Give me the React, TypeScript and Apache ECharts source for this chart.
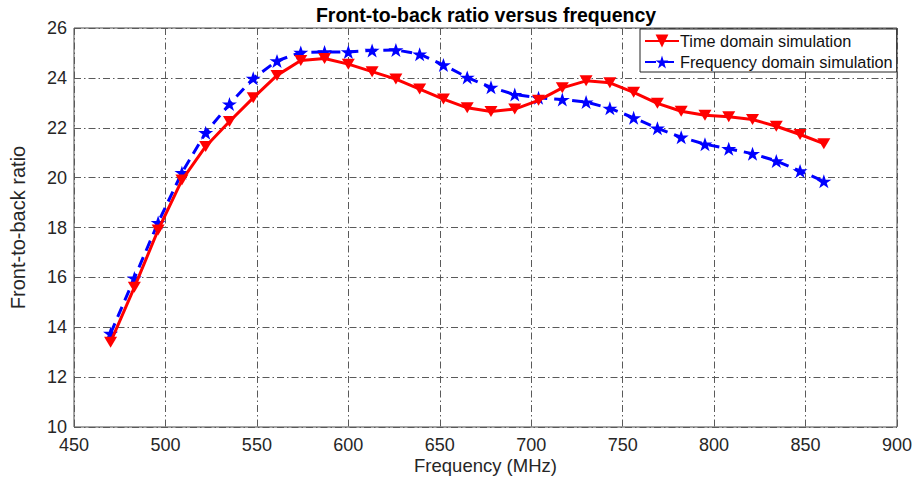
import React, { useEffect, useRef } from "react";
import * as echarts from "echarts";

const freqs = [470, 483, 496, 509, 522, 535, 548, 561, 574, 587, 600, 613, 626, 639, 652, 665, 678, 691, 704, 717, 730, 743, 756, 769, 782, 795, 808, 821, 834, 847, 860];
const timeDomain = [13.4, 15.6, 17.9, 19.9, 21.25, 22.25, 23.2, 24.1, 24.7, 24.78, 24.55, 24.25, 23.95, 23.55, 23.15, 22.8, 22.65, 22.75, 23.1, 23.6, 23.88, 23.8, 23.42, 22.98, 22.66, 22.5, 22.44, 22.33, 22.06, 21.73, 21.36];
const freqDomain = [13.75, 15.97, 18.2, 20.2, 21.8, 22.95, 23.98, 24.68, 25.02, 25.04, 25.04, 25.1, 25.12, 24.95, 24.52, 24.02, 23.62, 23.33, 23.2, 23.13, 23.03, 22.78, 22.4, 21.98, 21.62, 21.34, 21.16, 20.96, 20.67, 20.27, 19.85];
const xTicks = { min: 450, max: 900, interval: 50 };
const yTicks = { min: 10, max: 26, interval: 2 };
const seriesNames = ["Time domain simulation", "Frequency domain simulation"];

const STAR = "path://M12,0 L14.9,8.9 L24,8.9 L16.6,14.4 L19.4,23.2 L12,17.8 L4.6,23.2 L7.4,14.4 L0,8.9 L9.1,8.9 Z";
const FONT = "Liberation Sans, Arial, sans-serif";

export default function App() {
  const ref = useRef<HTMLDivElement>(null);
  useEffect(() => {
    document.body.style.margin = "0";
    if (!ref.current) return;
    const chart = echarts.init(ref.current, null, { renderer: "svg" });
    const gridLine = { show: true, lineStyle: { color: "#5a5a5a", width: 1, type: [7, 3, 1.5, 3] } };
    chart.setOption({
      animation: false,
      backgroundColor: "#ffffff",
      textStyle: { fontFamily: FONT },
      title: {
        text: "Front-to-back ratio versus frequency",
        left: 481,
        textAlign: "center",
        top: 0,
        textStyle: { fontFamily: FONT, fontSize: 19.5, fontWeight: "bold", color: "#000" },
      },
      grid: { left: 67, right: 23, top: 28, bottom: 58, show: true, borderColor: "#4a4a4a", borderWidth: 1, backgroundColor: "#fff" },
      legend: {
        left: 640,
        top: 29,
        orient: "vertical",
        backgroundColor: "#fff",
        borderColor: "#222",
        borderWidth: 1,
        borderRadius: 0,
        padding: [4, 4, 2, 4],
        itemGap: 5,
        itemWidth: 34,
        itemHeight: 16,
        textStyle: { fontFamily: FONT, fontSize: 16.3, color: "#111", padding: [0, 0, 0, -4] },
        data: seriesNames,
      },
      xAxis: {
        type: "value",
        min: xTicks.min,
        max: xTicks.max,
        interval: xTicks.interval,
        name: "Frequency (MHz)",
        nameLocation: "middle",
        nameGap: 29,
        nameMoveOverlap: false,
        nameTextStyle: { fontFamily: FONT, fontSize: 18.5, color: "#262626" },
        axisLine: { show: false },
        axisTick: { show: false },
        axisLabel: { fontFamily: FONT, fontSize: 18, color: "#262626", margin: 9 },
        splitLine: gridLine,
      },
      yAxis: {
        type: "value",
        min: yTicks.min,
        max: yTicks.max,
        interval: yTicks.interval,
        name: "Front-to-back ratio",
        nameLocation: "middle",
        nameGap: 46,
        nameMoveOverlap: false,
        nameTextStyle: { fontFamily: FONT, fontSize: 20, color: "#262626" },
        axisLine: { show: false },
        axisTick: { show: false },
        axisLabel: { fontFamily: FONT, fontSize: 18, color: "#262626", margin: 7 },
        splitLine: gridLine,
      },
      series: [
        {
          name: seriesNames[0],
          type: "line",
          data: freqs.map((f, i) => [f, timeDomain[i]]),
          lineStyle: { color: "#ff0000", width: 3, type: "solid" },
          itemStyle: { color: "#ff0000" },
          symbol: "triangle",
          symbolRotate: 180,
          symbolSize: [13, 11],
          z: 3,
        },
        {
          name: seriesNames[1],
          type: "line",
          data: freqs.map((f, i) => [f, freqDomain[i]]),
          lineStyle: { color: "#0000ff", width: 3, type: [11, 7] },
          itemStyle: { color: "#0000ff" },
          symbol: STAR,
          symbolSize: [15, 14],
          z: 2,
        },
      ],
    });
    return () => chart.dispose();
  }, []);
  return <div ref={ref} style={{ width: 920, height: 485 }} />;
}
